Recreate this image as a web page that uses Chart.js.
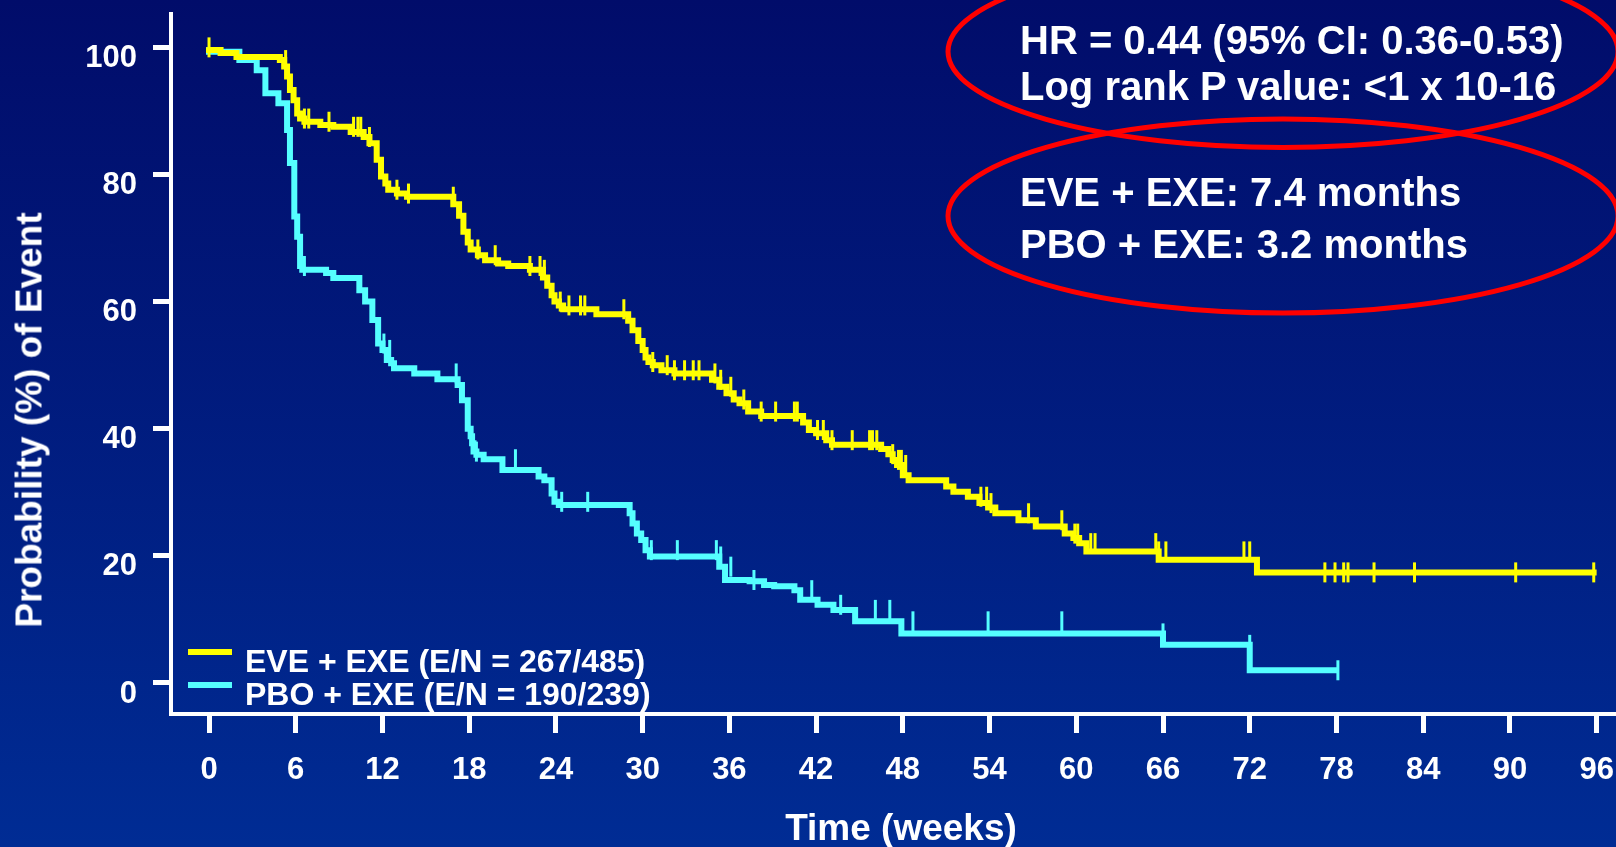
<!DOCTYPE html>
<html>
<head>
<meta charset="utf-8">
<script src="https://cdn.jsdelivr.net/npm/chart.js@4.4.1/dist/chart.umd.min.js"></script>
<style>
  html, body { margin: 0; padding: 0; overflow: hidden; background: #011a80; }
  body { width: 1616px; height: 847px; position: relative; font-family: "Liberation Sans", Arial, sans-serif; font-weight: bold; color: #fff; }
  #km { position: absolute; left: 0; top: 0; }
  .note { position: absolute; left: 1020px; font-size: 40px; line-height: 46px; white-space: nowrap; }
  .legend-row { position: absolute; left: 188px; height: 33px; font-size: 32px; line-height: 33px; white-space: nowrap; }
  .legend-row .swatch { position: absolute; left: 0; top: 4px; width: 44px; height: 6px; }
  .legend-row .label { position: absolute; left: 57px; top: 0; }
  #ytitle { position: absolute; left: 29px; top: 420px; transform: translate(-50%, -50%) rotate(-90deg); font-size: 37px; line-height: 37px; white-space: nowrap; }
  #xtitle { position: absolute; left: 901px; top: 809px; transform: translateX(-50%); font-size: 37px; line-height: 37px; white-space: nowrap; }
</style>
</head>
<body>
<canvas id="km" width="1616" height="847"></canvas>
<div id="ytitle">Probability (%) of Event</div>
<div id="xtitle">Time (weeks)</div>
<div class="note" style="top:17px">HR = 0.44 (95% CI: 0.36-0.53)</div>
<div class="note" style="top:63px">Log rank P value: &lt;1 x 10-16</div>
<div class="note" style="top:169px">EVE + EXE: 7.4 months</div>
<div class="note" style="top:221px">PBO + EXE: 3.2 months</div>
<div id="legend"></div>
<script>
// axis ticks
const weekTicks = [0, 6, 12, 18, 24, 30, 36, 42, 48, 54, 60, 66, 72, 78, 84, 90, 96];
const pctTicks = [0, 20, 40, 60, 80, 100];

const seriesLabels = ["EVE + EXE (E/N = 267/485)", "PBO + EXE (E/N = 190/239)"];

// EVE + EXE: time of each drop (weeks) and the level after it (%)
const eveTimes = [0, 0.8, 1.9, 4.9, 5.2, 5.4, 5.6, 5.85, 6.1, 6.3, 6.6, 7.7, 8.6, 9.8, 10.7, 11.1, 11.6, 11.9, 12.2, 12.4,
  13.0, 13.7, 16.9, 17.3, 17.6, 17.9, 18.1, 18.6, 19.1, 20.0, 20.7, 22.2, 23.1, 23.4, 23.7, 23.9, 24.2, 24.5, 26.8, 29.0,
  29.3, 29.7, 30.0, 30.2, 30.4, 30.7, 31.3, 32.2, 34.8, 35.3, 35.8, 36.3, 36.7, 37.3, 38.2, 41.1, 41.5, 42.0, 42.7, 43.1,
  46.5, 47.0, 47.3, 47.6, 48.0, 48.4, 51.0, 51.5, 52.5, 53.3, 53.9, 54.4, 56.0, 57.2, 59.2, 59.8, 60.2, 60.7, 65.7, 72.5,
  73.3, 96];
const eveSurv = [100, 99.6, 99.1, 98.5, 98.0, 97.0, 95.4, 93.3, 91.7, 89.6, 88.8, 88.3, 87.8, 87.5, 86.7, 85.9, 84.9, 82.3, 79.7, 78.6,
  77.6, 77.0, 76.5, 75.3, 73.5, 71.0, 69.3, 68.2, 67.3, 66.5, 66.0, 65.6, 65.0, 63.8, 62.5, 61.0, 60.0, 59.4, 58.8, 58.0,
  57.0, 55.5, 53.8, 52.4, 51.2, 50.5, 50.0, 49.2, 48.7, 47.7, 46.6, 45.6, 44.6, 44.0, 42.7, 42.0, 41.0, 39.8, 39.3, 38.2,
  37.5, 36.8, 36.0, 35.1, 34.3, 32.7, 31.9, 30.9, 30.1, 29.3, 28.3, 27.6, 26.7, 25.6, 24.6, 23.5, 22.8, 22.0, 20.7, 19.4,
  17.4, 17.4];
const eveCensor = [0, 5.3, 6.6, 6.9, 8.3, 10.0, 10.3, 10.5, 11.1, 13.0, 13.8, 16.9, 18.6, 19.8, 22.2, 22.9, 23.2, 24.3, 24.9,
  25.7, 26.0, 28.7, 30.7, 31.7, 32.2, 32.9, 33.5, 33.9, 35.0, 35.4, 36.1, 37.0, 38.2, 39.2, 40.5, 40.7, 42.1, 42.5, 43.1,
  44.5, 45.7, 45.9, 46.2, 47.3, 47.7, 47.9, 48.2, 53.4, 53.8, 54.1, 56.7, 59.0, 59.9, 60.1, 61.0, 61.3, 65.5, 65.7, 66.2,
  71.6, 72.0, 77.2, 77.9, 78.5, 78.8, 80.6, 83.4, 90.4, 95.8];

// PBO + EXE
const pboTimes = [0, 2.1, 3.3, 3.9, 4.8, 5.4, 5.6, 5.9, 6.1, 6.3, 6.45, 8.1, 8.6, 10.4, 10.8, 11.3, 11.7, 12.0, 12.3, 12.6,
  12.8, 14.2, 15.8, 17.2, 17.5, 17.9, 18.1, 18.2, 18.3, 18.5, 19.0, 20.3, 22.8, 23.2, 23.7, 23.9, 24.2, 29.1, 29.3, 29.6,
  29.9, 30.2, 30.5, 35.3, 35.7, 37.4, 38.4, 39.1, 40.5, 40.9, 42.1, 43.2, 44.7, 47.9, 66.0, 72.0, 78.1];
const pboSurv = [100, 99.3, 98.0, 96.4, 92.8, 91.2, 87.0, 81.8, 73.4, 70.2, 65.6, 65.0, 64.5, 63.7, 61.8, 60.0, 57.1, 53.4, 52.4, 50.8,
  50.3, 49.5, 48.7, 47.8, 46.9, 44.5, 40.0, 38.8, 37.7, 36.4, 35.9, 35.2, 33.5, 32.5, 31.9, 29.8, 28.5, 28.0, 26.7, 25.1,
  23.5, 22.5, 20.9, 19.9, 18.3, 16.2, 16.0, 15.4, 15.2, 14.6, 13.1, 12.3, 11.5, 9.7, 7.8, 6.0, 2.0];
const pboCensor = [6.6, 12.1, 12.5, 17.1, 18.5, 21.2, 24.4, 26.2, 30.6, 32.4, 35.1, 35.4, 36.1, 37.7, 41.7, 43.7, 46.1, 47.1,
  48.7, 53.9, 59.0, 66.0, 72.0, 78.1];

const yellow = "#ffff00";
const cyan = "#55ffff";

function curvePoints(times, surv) {
  return times.map((t, i) => ({ x: t, y: surv[i] }));
}

// a censor mark sits on the curve at the level reached by that time
function censorPoints(censor, times, surv) {
  return censor.map(t => {
    let s = surv[0];
    for (let i = 0; i < times.length; i++) {
      if (times[i] <= t) s = surv[i];
    }
    return { x: t, y: s };
  });
}

// keep the plot box where the slide has it: no extra room for edge labels
function noEdgePadding(scale) {
  scale.paddingTop = 0;
  scale.paddingBottom = 0;
  scale.paddingLeft = 0;
  scale.paddingRight = 0;
}

const backgroundPlugin = {
  id: "slideBackground",
  beforeDraw(chart) {
    const ctx = chart.ctx;
    const g = ctx.createLinearGradient(0, 0, 0, chart.height);
    g.addColorStop(0, "#010c6a");
    g.addColorStop(1, "#002c94");
    ctx.save();
    ctx.fillStyle = g;
    ctx.fillRect(0, 0, chart.width, chart.height);
    ctx.restore();
  }
};

const ellipsePlugin = {
  id: "ellipses",
  afterDraw(chart) {
    const ctx = chart.ctx;
    ctx.save();
    ctx.strokeStyle = "#ff0000";
    ctx.lineWidth = 5;
    ctx.beginPath();
    ctx.ellipse(1283, 51.5, 335, 96, 0, 0, Math.PI * 2);
    ctx.stroke();
    ctx.beginPath();
    ctx.ellipse(1283, 216, 335, 97, 0, 0, Math.PI * 2);
    ctx.stroke();
    ctx.restore();
  }
};

const chartDiv = document.getElementById("km");
const kmChart = new Chart(chartDiv,
  {
    type: "scatter",
    data: {
      datasets: [
        {
          label: seriesLabels[0],
          data: curvePoints(eveTimes, eveSurv),
          showLine: true,
          stepped: "after",
          borderColor: yellow,
          borderWidth: 6,
          pointRadius: 0,
          order: 2
        },
        {
          label: "EVE censored",
          data: censorPoints(eveCensor, eveTimes, eveSurv),
          showLine: false,
          pointStyle: "line",
          rotation: 90,
          pointRadius: 10,
          borderColor: yellow,
          borderWidth: 3,
          order: 1
        },
        {
          label: seriesLabels[1],
          data: curvePoints(pboTimes, pboSurv),
          showLine: true,
          stepped: "after",
          borderColor: cyan,
          borderWidth: 6,
          pointRadius: 0,
          order: 4
        },
        {
          label: "PBO censored",
          data: censorPoints(pboCensor, pboTimes, pboSurv),
          showLine: false,
          pointStyle: "line",
          rotation: 90,
          pointRadius: 10,
          borderColor: cyan,
          borderWidth: 3,
          order: 3
        }
      ]
    },
    options: {
      responsive: false,
      animation: false,
      layout: { autoPadding: false, padding: { top: 14, left: 0, right: 0, bottom: 0 } },
      plugins: {
        legend: { display: false },
        tooltip: { enabled: false }
      },
      scales: {
        x: {
          type: "linear",
          min: -2.63,
          max: 97.34,
          afterBuildTicks: scale => { scale.ticks = weekTicks.map(v => ({ value: v })); },
          afterFit: scale => { scale.height = 133; noEdgePadding(scale); },
          ticks: {
            color: "#ffffff",
            font: { size: 31, weight: "bold", family: "'Liberation Sans', Arial, sans-serif" },
            padding: 19,
            maxRotation: 0,
            autoSkip: false
          },
          grid: { drawOnChartArea: false, drawTicks: true, tickLength: 19, tickWidth: 5, tickColor: "#ffffff" },
          border: { color: "#ffffff", width: 4 }
        },
        y: {
          type: "linear",
          min: -4.88,
          max: 105.25,
          afterBuildTicks: scale => { scale.ticks = pctTicks.map(v => ({ value: v })); },
          afterFit: scale => { scale.width = 171; noEdgePadding(scale); },
          ticks: {
            color: "#ffffff",
            font: { size: 31, weight: "bold", family: "'Liberation Sans', Arial, sans-serif" },
            padding: 16,
            labelOffset: 11
          },
          grid: { drawOnChartArea: false, drawTicks: true, tickLength: 18, tickWidth: 5, tickColor: "#ffffff" },
          border: { color: "#ffffff", width: 4 }
        }
      }
    },
    plugins: [backgroundPlugin, ellipsePlugin]
  });

// legend rows for the two curves, bottom left inside the plot
const legendDiv = document.getElementById("legend");
[0, 2].forEach((idx, row) => {
  const ds = kmChart.data.datasets[idx];
  const div = document.createElement("div");
  div.className = "legend-row";
  div.style.top = (645 + row * 33.4) + "px";
  div.innerHTML = '<span class="swatch" style="background:' + ds.borderColor + '"></span><span class="label"></span>';
  div.querySelector(".label").textContent = ds.label;
  legendDiv.appendChild(div);
});
</script>
</body>
</html>
